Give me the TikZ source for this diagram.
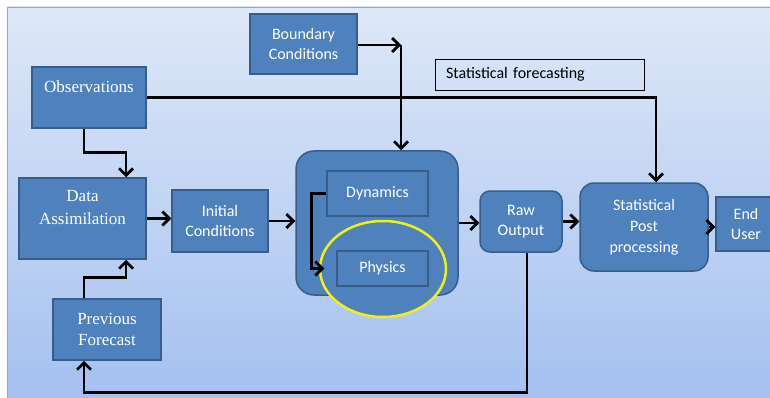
\documentclass[tikz,border=0pt]{standalone}
\usepackage{fontspec}
\setmainfont{Liberation Serif}
\newfontfamily\calib{Carlito}
\usepackage{tikz}
\usetikzlibrary{arrows.meta, positioning, calc, shapes.geometric}
\definecolor{boxblue}{RGB}{79,129,189}
\definecolor{boxedge}{RGB}{56,93,138}
\definecolor{bgtop}{RGB}{222,232,247}
\definecolor{bgbot}{RGB}{164,192,240}
\definecolor{ringyellow}{RGB}{240,240,20}

\begin{document}
\begin{tikzpicture}[x=1pt, y=-1pt,
    blk/.style={draw=boxedge, line width=1.5pt, fill=boxblue, text=white, align=center,
        inner sep=0pt, font=\calib\fontsize{16}{20}\selectfont},
    serifblk/.style={blk, font=\rmfamily\fontsize{17}{21}\selectfont},
    rblk/.style={blk, rounded corners=10pt},
    arr/.style={-{Straight Barb[length=7pt,width=14pt]}, line width=2.8pt, black}]
    \useasboundingbox (0,0) rectangle (770,398);
    % background panel
    \fill[top color=bgtop, bottom color=bgbot] (7,7) rectangle (775,403);
    \draw[gray!70, line width=0.8pt] (775,7) -- (7,7) -- (7,403);

    % inputs
    \node[blk, minimum width=107pt, minimum height=60pt] (bc) at (303.5,44) {Boundary\\Conditions};
    \node[serifblk, minimum width=114pt, minimum height=61pt] (obs) at (89,97.5) {Observations\\\mbox{}};
    \node[serifblk, minimum width=127pt, minimum height=81pt, font=\rmfamily\fontsize{17}{23}\selectfont] (da) at (82.5,218.5) {Data\\Assimilation\\\mbox{}};
    \node[blk, minimum width=96pt, minimum height=62pt] (ic) at (220,221) {Initial\\Conditions};
    \node[serifblk, minimum width=108pt, minimum height=61pt] (pf) at (107,329.5) {Previous\\Forecast};

    % model
    \node[blk, rounded corners=18pt, minimum width=162pt, minimum height=144pt] (model) at (377,223) {};
    \node[ellipse, draw=ringyellow, line width=2.5pt, fill=boxblue, minimum width=126pt,
        minimum height=96pt, inner sep=0pt] (ring) at (383,269) {};
    \node[blk, minimum width=101pt, minimum height=45pt] (dyn) at (377.5,193.5) {Dynamics};
    \node[blk, minimum width=91pt, minimum height=35pt] (phy) at (382.5,268.5) {Physics};

    % outputs
    \node[rblk, minimum width=82pt, minimum height=61pt] (raw) at (521,221.5) {Raw\\Output};
    \node[rblk, rounded corners=14pt, minimum width=128pt, minimum height=88pt,
        font=\calib\fontsize{16}{21}\selectfont] (spp) at (644,227) {Statistical\\Post\\processing};
    \node[blk, minimum width=60pt, minimum height=54pt] (eu) at (746,224) {End\\User};
    \node[draw=black, line width=0.8pt, minimum height=31pt, text width=187pt, inner xsep=11pt,
        inner ysep=0pt, align=left, font=\calib\fontsize{16}{20}\selectfont] (sf) at (539.5,74.5) {Statistical forecasting};

    % connectors
    \coordinate (bcj) at (401,45);
    \draw[arr] (bc.east |- bcj) -- (bcj);
    \draw[arr] (bcj) -- (bcj |- model.north);
    \draw[arr] ([xshift=-5pt]obs.south) -- ++(0,24) -| ([xshift=43.5pt]da.north);
    \draw[arr] (obs.east) -| ([xshift=12pt]spp.north);
    \draw[arr] (da.east) -- (da.east -| ic.west);
    \draw[arr] (ic.east) -- (ic.east -| model.west);
    \draw[arr] ([xshift=-23pt]pf.north) -- ++(0,-21) -| ([xshift=43.5pt]da.south);
    \draw[arr] ([xshift=6pt]raw.south) -- ++(0,140) -| ([xshift=-23pt]pf.south);
    \draw[arr] (dyn.west) -- ++(-15,0) |- ([xshift=-12pt]phy.west);
    \draw[arr] (model.east) -- (model.east -| raw.west);
    \draw[arr] (raw.east) -- (raw.east -| spp.west);
    \draw[arr] (spp.east) -- (spp.east -| eu.west);
\end{tikzpicture}
\end{document}
